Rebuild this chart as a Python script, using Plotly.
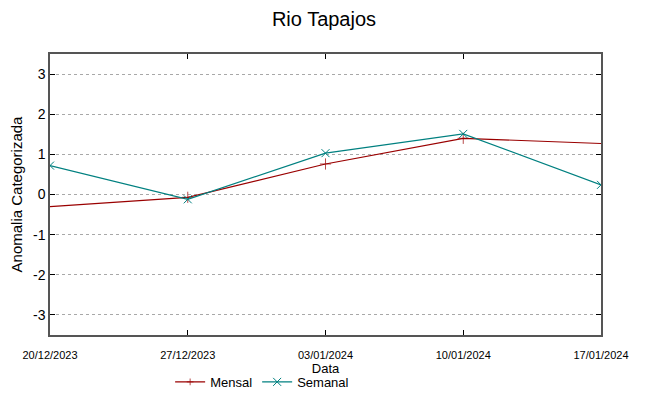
import plotly.graph_objects as go

dates = ["2023-12-20", "2023-12-27", "2024-01-03", "2024-01-10", "2024-01-17"]
tick_labels = ["20/12/2023", "27/12/2023", "03/01/2024", "10/01/2024", "17/01/2024"]
mensal = [-0.30, -0.07, 0.76, 1.40, 1.27]
semanal = [0.72, -0.12, 1.03, 1.51, 0.24]
y_ticks = [-3, -2, -1, 0, 1, 2, 3]
y_tick_labels = ["-3", "-2", "-1", "0", "1", "2", "3"]

RED = "#9a0000"
TEAL = "#008080"
FONT = "Liberation Sans, Arial"

fig = go.Figure()
fig.add_trace(go.Scatter(
    x=dates, y=mensal, name="Mensal", mode="lines+markers",
    line=dict(color=RED, width=1.2),
    marker=dict(symbol="cross-thin", size=[0, 8, 8, 8, 0], line=dict(color=RED, width=1)),
))
fig.add_trace(go.Scatter(
    x=dates, y=semanal, name="Semanal", mode="lines+markers",
    line=dict(color=TEAL, width=1.2),
    marker=dict(symbol="x-thin", size=8, line=dict(color=TEAL, width=1)),
))

# page body has an 8px margin, so the figure is sized/offset to compensate
fig.update_layout(
    width=641, height=388,
    margin=dict(l=42, r=48, t=46, b=61, autoexpand=False),
    paper_bgcolor="white", plot_bgcolor="white",
    font=dict(family=FONT, size=14, color="black"),
    title=dict(text="Rio Tapajos", x=(324 - 8) / 641, xanchor="center", y=1 - 11 / 388,
               yanchor="middle", yref="container", automargin=False,
               font=dict(size=20, family=FONT)),
    showlegend=True,
    legend=dict(orientation="h", x=0.385, xanchor="center", y=-0.167, yanchor="middle",
                font=dict(family=FONT, size=13), bgcolor="rgba(0,0,0,0)",
                itemwidth=30, tracegroupgap=0),
)
fig.update_xaxes(
    range=[dates[0], dates[-1]],
    tickmode="array", tickvals=dates, ticktext=tick_labels,
    tickfont=dict(family=FONT, size=11),
    ticks="inside", ticklen=5, tickcolor="black",
    showline=True, linecolor="#555555", linewidth=1.5, mirror="ticks",
    showgrid=False, zeroline=False, automargin=False,
    ticklabelstandoff=9,
    title=dict(text="Data", font=dict(family=FONT, size=13), standoff=0),
)
fig.update_yaxes(
    range=[-3.5, 3.5],
    tickmode="array", tickvals=y_ticks, ticktext=y_tick_labels,
    tickfont=dict(size=14),
    ticks="inside", ticklen=5, tickcolor="black",
    showline=True, linecolor="#555555", linewidth=1.5, mirror="ticks",
    showgrid=True, gridcolor="#a8a8a8", griddash="dot", gridwidth=1,
    zeroline=False, automargin=False,
    title=dict(text="Anomalia Categorizada", font=dict(size=15), standoff=10),
)

fig.write_html("out.html")
